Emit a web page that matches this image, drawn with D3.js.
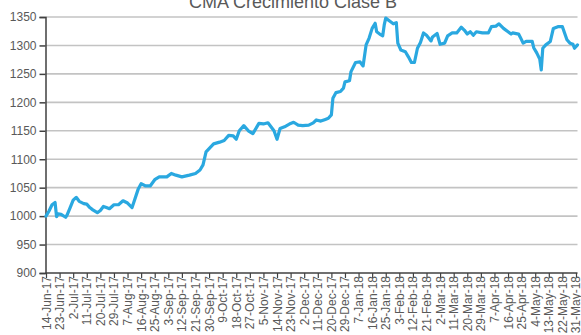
<!DOCTYPE html>
<html>
<head>
<meta charset="utf-8">
<script src="https://cdn.jsdelivr.net/npm/d3@7/dist/d3.min.js"></script>
<style>
  html, body { margin: 0; padding: 0; background: #fff; }
  svg { display: block; font-family: "Liberation Sans", Arial, sans-serif; }
</style>
</head>
<body>
<svg id="chart" width="581" height="335"></svg>
<script>
// Daily class-B NAV series
const dates = [
  "2017-06-14","2017-06-16","2017-06-18","2017-06-20","2017-06-21","2017-06-22","2017-06-24","2017-06-27","2017-06-28","2017-06-30",
  "2017-07-02","2017-07-04","2017-07-06","2017-07-09","2017-07-11","2017-07-13","2017-07-15","2017-07-18","2017-07-20","2017-07-22",
  "2017-07-24","2017-07-26","2017-07-29","2017-08-01","2017-08-04","2017-08-07","2017-08-10","2017-08-11","2017-08-14","2017-08-16",
  "2017-08-19","2017-08-22","2017-08-25","2017-08-28","2017-09-02","2017-09-05","2017-09-08","2017-09-12","2017-09-17","2017-09-21",
  "2017-09-24","2017-09-26","2017-09-28","2017-10-03","2017-10-07","2017-10-10","2017-10-13","2017-10-16","2017-10-18","2017-10-20",
  "2017-10-23","2017-10-26","2017-10-29","2017-11-02","2017-11-05","2017-11-08","2017-11-10","2017-11-12","2017-11-14","2017-11-16",
  "2017-11-19","2017-11-23","2017-11-25","2017-11-28","2017-12-01","2017-12-05","2017-12-08","2017-12-10","2017-12-13","2017-12-16",
  "2017-12-18","2017-12-20","2017-12-21","2017-12-23","2017-12-26","2017-12-28","2017-12-29","2018-01-01","2018-01-02","2018-01-05",
  "2018-01-08","2018-01-10","2018-01-12","2018-01-14","2018-01-16","2018-01-18","2018-01-19","2018-01-21","2018-01-23","2018-01-24",
  "2018-01-25","2018-01-28","2018-01-30","2018-02-01","2018-02-02","2018-02-04","2018-02-07","2018-02-09","2018-02-11","2018-02-13",
  "2018-02-15","2018-02-17","2018-02-19","2018-02-21","2018-02-24","2018-02-25","2018-02-28","2018-03-02","2018-03-05","2018-03-07",
  "2018-03-10","2018-03-13","2018-03-16","2018-03-18","2018-03-20","2018-03-22","2018-03-24","2018-03-26","2018-03-30","2018-04-03",
  "2018-04-05","2018-04-08","2018-04-10","2018-04-13","2018-04-16","2018-04-18","2018-04-19","2018-04-23","2018-04-24","2018-04-26",
  "2018-04-28","2018-05-02","2018-05-03","2018-05-05","2018-05-07","2018-05-08","2018-05-09","2018-05-11","2018-05-14","2018-05-16",
  "2018-05-19","2018-05-22","2018-05-25","2018-05-27","2018-05-29","2018-05-30","2018-06-01"
];
const values = [
  1000,1009,1020,1024,999,1004,1003,998,1002,1015,
  1028,1033,1026,1022,1021,1015,1011,1006,1010,1017,
  1015,1013,1020,1020,1027,1023,1015,1023,1047,1057,
  1053,1053,1064,1069,1069,1075,1072,1069,1072,1075,
  1081,1090,1113,1127,1130,1133,1142,1141,1135,1150,
  1159,1150,1145,1163,1162,1164,1157,1150,1135,1154,
  1157,1163,1165,1160,1159,1160,1164,1169,1167,1170,
  1172,1178,1207,1217,1219,1225,1236,1238,1254,1270,
  1271,1264,1301,1313,1330,1339,1324,1320,1317,1336,
  1348,1342,1338,1340,1304,1292,1289,1280,1270,1270,
  1295,1305,1322,1318,1308,1315,1321,1302,1304,1317,
  1322,1322,1332,1327,1320,1324,1318,1324,1322,1322,
  1333,1334,1338,1330,1324,1320,1322,1320,1315,1304,
  1307,1307,1296,1287,1276,1257,1295,1301,1307,1330,
  1333,1333,1310,1304,1302,1295,1301
];

// Axis ticks
const xTickDates = [
  "2017-06-14","2017-06-23","2017-07-02","2017-07-11","2017-07-20","2017-07-29","2017-08-07","2017-08-16",
  "2017-08-25","2017-09-03","2017-09-12","2017-09-21","2017-09-30","2017-10-09","2017-10-18","2017-10-27",
  "2017-11-05","2017-11-14","2017-11-23","2017-12-02","2017-12-11","2017-12-20","2017-12-29","2018-01-07",
  "2018-01-16","2018-01-25","2018-02-03","2018-02-12","2018-02-21","2018-03-02","2018-03-11","2018-03-20",
  "2018-03-29","2018-04-07","2018-04-16","2018-04-25","2018-05-04","2018-05-13","2018-05-22","2018-05-31"
];
const yTicks = [900, 950, 1000, 1050, 1100, 1150, 1200, 1250, 1300, 1350];

const title = "CMA Crecimiento Clase B";
const xDomain = ["2017-06-14", "2018-06-01"];

const parse = d3.utcParse("%Y-%m-%d");
const fmt = d3.utcFormat("%-d-%b-%y");
const series = dates.map((d, i) => ({ date: parse(d), value: values[i] }));

const svg = d3.select("#chart");
const plotLeft = 45.5, plotRight = 577.5, plotTop = 17, plotBottom = 273;

const x = d3.scaleUtc().domain(xDomain.map(parse)).range([46, plotRight]);
const y = d3.scaleLinear().domain([900, 1350]).range([plotBottom, plotTop]);

const textColor = "#595959";

// Horizontal gridlines
svg.append("g")
  .selectAll("line")
  .data(yTicks.filter(v => v !== 900))
  .join("line")
  .attr("x1", plotLeft).attr("x2", plotRight)
  .attr("y1", d => y(d)).attr("y2", d => y(d))
  .attr("stroke", "#c3c3c3")
  .attr("stroke-width", 1.6);

// Y axis
const yAxis = svg.append("g")
  .attr("transform", `translate(${plotLeft},0)`)
  .call(d3.axisLeft(y).tickValues(yTicks).tickSize(6).tickPadding(3).tickFormat(d3.format("d")));
yAxis.select(".domain").attr("stroke", "#404040").attr("stroke-width", 1.5);
yAxis.selectAll(".tick line").attr("stroke", "#404040").attr("stroke-width", 1.5);
yAxis.selectAll(".tick text")
  .attr("fill", textColor)
  .style("font-size", "12px")
  .style("font-family", "'Liberation Sans', Arial, sans-serif");

// X axis
const xAxis = svg.append("g")
  .attr("transform", `translate(0,${plotBottom})`)
  .call(d3.axisBottom(x).tickValues(xTickDates.map(parse)).tickSize(5).tickSizeOuter(0).tickFormat(fmt));
xAxis.select(".domain").attr("stroke", "#404040").attr("stroke-width", 1.5)
  .attr("d", `M${plotLeft},0H${plotRight}`);
xAxis.selectAll(".tick line").attr("stroke", "#404040").attr("stroke-width", 1.2);
xAxis.selectAll(".tick text")
  .attr("fill", textColor)
  .style("font-size", "12px")
  .style("font-family", "'Liberation Sans', Arial, sans-serif")
  .attr("text-anchor", "end")
  .attr("dy", null)
  .attr("y", 0)
  .attr("transform", "translate(4,3) rotate(-90)");

// Series line
const line = d3.line()
  .x(d => x(d.date))
  .y(d => y(d.value));

svg.append("path")
  .datum(series)
  .attr("d", line)
  .attr("fill", "none")
  .attr("stroke", "#2aa8e0")
  .attr("stroke-width", 3.2)
  .attr("stroke-linejoin", "round")
  .attr("stroke-linecap", "round");

// Title
svg.append("text")
  .attr("x", 293)
  .attr("y", 8)
  .attr("text-anchor", "middle")
  .attr("fill", textColor)
  .style("font-size", "18px")
  .style("font-family", "'Liberation Sans', Arial, sans-serif")
  .text(title);
</script>
</body>
</html>
